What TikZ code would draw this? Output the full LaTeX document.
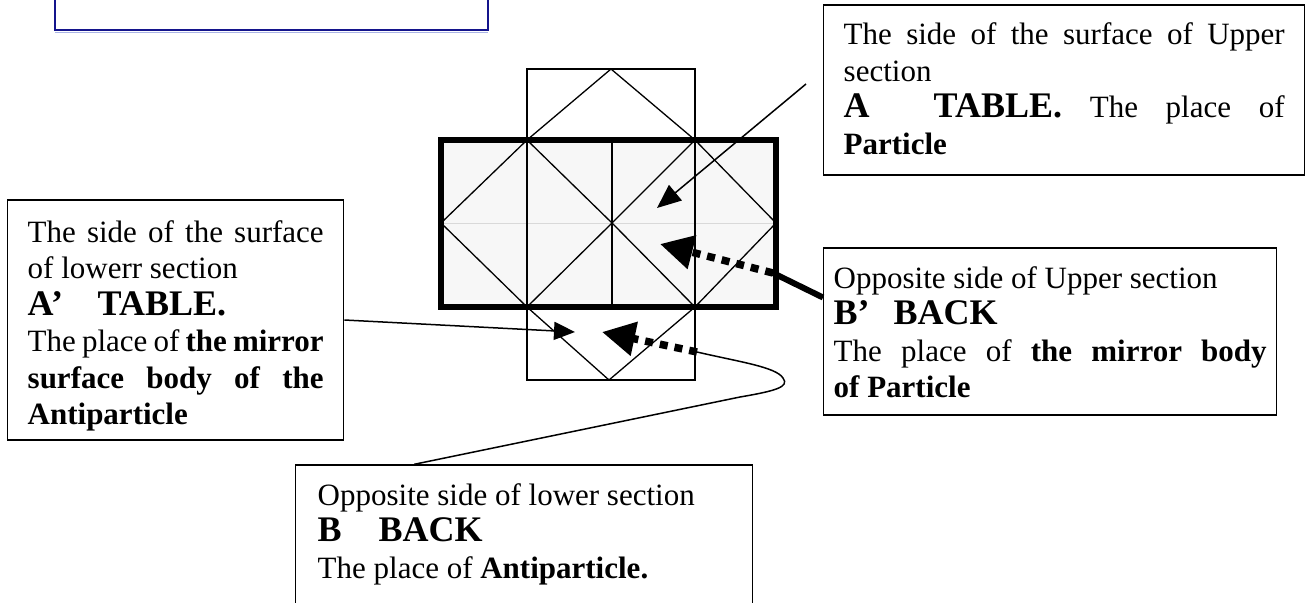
\documentclass[tikz,border=0pt]{standalone}
\usepackage{fontspec}
\setmainfont{Liberation Serif}
\usetikzlibrary{arrows.meta, calc}

\definecolor{noteblue}{RGB}{20,20,140}
\definecolor{noteshade}{RGB}{170,180,230}

\newcommand{\just}[1]{{\spaceskip=0pt\xspaceskip=0pt\makebox[\hsize][s]{#1}}}
\newcommand{\bigb}[1]{{\fontsize{36}{37}\selectfont\bfseries #1}}

\begin{document}
\begin{tikzpicture}[
    x=1pt, y=-1pt,
    callout/.style={
        draw,
        line width=1.4pt,
        align=justify,
        inner ysep=0pt,
        anchor=base west,
        font=\fontsize{31}{36.5}\selectfont
    },
    fold/.style={
        line width=1.3pt
    },
    slab/.style={
        line width=6.5pt
    },
    pointer/.style={
        line width=1.5pt,
        -{Triangle[length=24pt,width=20pt]}
    },
    dotted arrow/.style={
        line width=7.5pt,
        dash pattern=on 8pt off 7pt,
        -{Triangle[length=33pt,width=33pt]}
    },
    heavy/.style={
        line width=6pt
    }
]
    \useasboundingbox (0,0) rectangle (1305,602);

    % Empty note, cut by the page edge
    \node[draw=noteblue, line width=2.5pt, minimum width=433pt, minimum height=60pt,
          outer sep=0pt, anchor=south west] (note) at (55,30) {};
    \draw[noteshade, line width=1.5pt] ([yshift=-2.5pt]note.south west) -- ([yshift=-2.5pt]note.south east);

    % Folded sheet
    \fill[black!3] (441,140) rectangle (776,307);
    \draw[black!15, line width=1pt] (441,223) -- (776,223);
    \draw[fold] (527,69) rectangle (695,380);
    \draw[fold] (612,140) -- (612,307);
    \draw[fold] (441,223) -- (527,140) -- (612,223) -- (527,307) -- cycle;
    \draw[fold] (612,223) -- (695,140) -- (776,223) -- (695,307) -- cycle;
    \draw[fold] (527,140) -- (611,69) -- (695,140);
    \draw[fold] (527,307) -- (609,380) -- (695,307);
    \draw[slab] (441,140) rectangle (776,307);

    % Callouts
    \node[callout, text width=441pt, inner xsep=20pt, text height=40pt, text depth=130pt] (upper) at (823,45) {
        \just{The side of the surface of Upper}\\
        section\\
        \just{\bigb{\makebox[90pt][l]{A}TABLE.} The place of}\\
        \textbf{Particle}};

    \node[callout, text width=296pt, inner xsep=20pt, text height=42pt, text depth=198pt] (lower) at (7,242) {
        \just{The side of the surface}\\
        of lowerr section\\
        \bigb{\makebox[70pt][l]{A'}TABLE.}\\
        \just{The place of \textbf{the mirror}}\\
        \just{\textbf{surface body of the}}\\
        \textbf{Antiparticle}};

    \node[callout, text width=433pt, inner xsep=10pt, text height=40pt, text depth=127pt] (mirror) at (823,288) {
        Opposite side of Upper section\\
        \bigb{\makebox[60pt][l]{B'}BACK}\\
        \just{The place of \textbf{the mirror body}}\\
        \textbf{of Particle}};

    \node[callout, text width=413pt, inner xsep=22pt, text height=40pt, text depth=125pt] (back) at (295,505) {
        Opposite side of lower section\\
        \bigb{\makebox[61pt][l]{B}BACK}\\
        The place of \textbf{Antiparticle.}};

    % Connections
    \coordinate (tipA) at (657,208);
    \coordinate (bendB) at (773,273);
    \coordinate (tipB) at (660,244);
    \coordinate (tipC) at (575,332);
    \coordinate (tailD) at (697,352);
    \coordinate (tipD) at (602,332);
    \coordinate (loop) at (783,378);

    \draw[pointer] ([xshift=-17pt,yshift=6pt]upper.west) -- (tipA);
    \draw[heavy] ([yshift=34pt]mirror.west) -- (bendB);
    \draw[dotted arrow] (bendB) -- (tipB);
    \draw[pointer, -{Triangle[length=21pt,width=18pt]}] (lower.east) -- (tipC);
    \draw[dotted arrow] (tailD) -- (tipD);
    \draw[line width=1.5pt] ($(back.north west)!0.26!(back.north east)$) -- (740,397)
        .. controls (775,391) and (790,387) .. (loop)
        .. controls (776,367) and (740,362) .. (tailD);

\end{tikzpicture}
\end{document}
